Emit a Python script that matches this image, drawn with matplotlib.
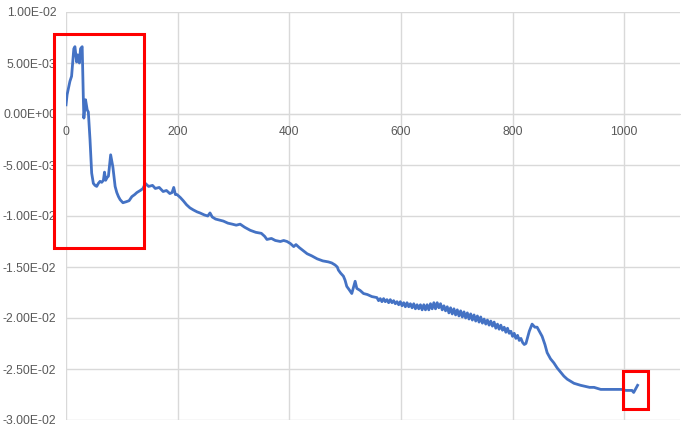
import matplotlib
matplotlib.use("Agg")
import matplotlib.pyplot as plt
from matplotlib.patches import Rectangle
from matplotlib.ticker import FuncFormatter

# Data, in consecutive segments
x_seg1 = [0, 2, 4, 7, 10, 14, 16, 19, 21, 24,
          26, 29, 30, 31, 32, 35, 38, 40, 43, 46,
          49, 52, 55, 58, 61, 64, 67, 69, 71, 74,
          76, 80, 82, 84, 88, 91, 94, 97]
y_seg1 = [0.0009, 0.0019, 0.0024, 0.0032, 0.0037, 0.0064, 0.0066, 0.0051, 0.0058, 0.0050,
          0.0064, 0.0066, 0.0040, 0.0017, -0.0004, 0.0014, 0.0004, 0.0002, -0.0025, -0.0058,
          -0.0068, -0.0070, -0.0071, -0.0068, -0.0066, -0.0067, -0.0065, -0.0057, -0.0065, -0.0062,
          -0.0061, -0.0040, -0.0046, -0.0052, -0.0071, -0.0077, -0.0081, -0.0084]

x_seg2 = [102, 108, 113, 118, 123, 127, 133, 138, 142, 148,
          155, 160, 167, 174, 180, 186, 190, 193, 196, 199,
          205, 210, 216, 222, 228, 235, 240, 248, 254, 258,
          262, 268, 275, 282, 290, 298, 305, 312, 320, 330,
          340, 350, 356, 360, 368, 375, 384, 390, 396, 402,
          408, 412, 418, 425, 432, 440, 450, 460, 470, 476]
y_seg2 = [-0.0087, -0.0086, -0.0085, -0.0081, -0.0079, -0.0077, -0.0075, -0.0073, -0.0068, -0.0071,
          -0.0070, -0.0073, -0.0072, -0.0076, -0.0075, -0.0078, -0.0077, -0.0072, -0.0079, -0.0079,
          -0.0082, -0.0085, -0.0089, -0.0092, -0.0094, -0.0096, -0.0097, -0.0099, -0.0100, -0.0097,
          -0.0101, -0.0103, -0.0104, -0.0105, -0.0107, -0.0108, -0.0109, -0.0108, -0.0111, -0.0114,
          -0.0116, -0.0117, -0.0120, -0.0123, -0.0122, -0.0124, -0.0125, -0.0124, -0.0125, -0.0127,
          -0.0130, -0.0128, -0.0131, -0.0134, -0.0137, -0.0139, -0.0142, -0.0144, -0.0145, -0.0146]

x_seg3 = [482, 486, 488, 492, 497, 500, 503, 507, 512, 515,
          518, 521, 527, 533, 540, 548]
y_seg3 = [-0.0148, -0.0150, -0.0153, -0.0156, -0.0159, -0.0163, -0.0169, -0.0172, -0.0176, -0.0170,
          -0.0164, -0.0171, -0.0173, -0.0176, -0.0177, -0.0179]

# noisy stretch (upper/lower edges of the jittery trace)
x_seg4 = [557, 560, 563, 566, 569, 572, 575, 578, 581, 584,
          587, 590, 593, 596, 599, 602, 605, 608, 611, 614,
          617, 620, 623, 626, 629, 632, 635, 638, 641, 644,
          647, 650, 653, 656, 659, 662, 665, 668, 671, 674,
          677, 680, 683, 686, 689, 692, 695, 698, 701, 704,
          707, 710, 713, 716, 719, 722, 725, 728, 731, 734,
          737, 740, 743, 746, 749, 752, 755, 758, 761, 764,
          767, 770, 773, 776, 779, 782, 785, 788, 791, 794,
          797, 800, 803, 806, 809, 812, 815, 818, 821]
y_seg4 = [-0.0180, -0.0183, -0.0181, -0.0184, -0.0181, -0.0184, -0.0182, -0.0185, -0.0182, -0.0185,
          -0.0183, -0.0186, -0.0184, -0.0187, -0.0184, -0.0188, -0.0185, -0.0189, -0.0185, -0.0189,
          -0.0186, -0.0190, -0.0186, -0.0191, -0.0187, -0.0191, -0.0187, -0.0192, -0.0187, -0.0192,
          -0.0187, -0.0192, -0.0186, -0.0191, -0.0185, -0.0191, -0.0185, -0.0190, -0.0186, -0.0192,
          -0.0188, -0.0193, -0.0189, -0.0195, -0.0190, -0.0196, -0.0191, -0.0197, -0.0192, -0.0198,
          -0.0193, -0.0199, -0.0194, -0.0200, -0.0195, -0.0201, -0.0196, -0.0202, -0.0197, -0.0203,
          -0.0198, -0.0204, -0.0199, -0.0205, -0.0201, -0.0206, -0.0202, -0.0207, -0.0203, -0.0208,
          -0.0204, -0.0210, -0.0206, -0.0211, -0.0207, -0.0212, -0.0209, -0.0214, -0.0210, -0.0215,
          -0.0213, -0.0218, -0.0215, -0.0220, -0.0217, -0.0222, -0.0220, -0.0224, -0.0226]

x_seg5 = [824, 826, 830, 835, 840, 844, 848, 853, 858, 862,
          868, 874, 880, 886, 892, 898, 904, 910, 916, 922,
          930, 938, 946, 952, 958, 966, 974, 982, 988, 995,
          1003, 1010, 1014, 1017, 1020, 1024]
y_seg5 = [-0.0225, -0.0221, -0.0213, -0.0206, -0.0209, -0.0209, -0.0213, -0.0218, -0.0226, -0.0234,
          -0.0240, -0.0244, -0.0249, -0.0253, -0.0257, -0.0260, -0.0262, -0.0264, -0.0265, -0.0266,
          -0.0267, -0.0268, -0.0268, -0.0269, -0.0270, -0.0270, -0.0270, -0.0270, -0.0270, -0.0270,
          -0.0271, -0.0271, -0.0271, -0.0273, -0.0270, -0.0266]

x_ticks = [0, 200, 400, 600, 800, 1000]
y_ticks = [-0.03, -0.025, -0.02, -0.015, -0.01, -0.005, 0.0, 0.005, 0.01]

# Highlight boxes (data coordinates: x0, y0, x1, y1)
box_left = [-21, -0.0131, 140, 0.0078]
box_right = [997, -0.0289, 1042, -0.0252]

x_vals = x_seg1 + x_seg2 + x_seg3 + x_seg4 + x_seg5
y_vals = y_seg1 + y_seg2 + y_seg3 + y_seg4 + y_seg5

plt.rcParams['font.family'] = ['Liberation Sans', 'DejaVu Sans']

fig = plt.figure(figsize=(6.81, 4.32), dpi=100)
ax = fig.add_axes([66/681, 12/432, (680-66)/681, (420-12)/432])

ax.plot(x_vals, y_vals, color='#4472C4', linewidth=2.0, zorder=3)

ax.set_xlim(0, 1100)
ax.set_ylim(-0.03, 0.01)
ax.set_xticks(x_ticks)
ax.set_yticks(y_ticks)

def sci(v, pos):
    s = f"{v:.2E}"
    if s.startswith("-0.00"):
        s = s[1:]
    return s

ax.yaxis.set_major_formatter(FuncFormatter(sci))
ax.grid(True, color='#d9d9d9', linewidth=1.0, zorder=0)
for s in ['top', 'right', 'left']:
    ax.spines[s].set_visible(False)
ax.spines['bottom'].set_position(('data', 0))
ax.spines['bottom'].set_color('#d9d9d9')
ax.tick_params(axis='both', length=0, colors='#595959', labelsize=8.7)
ax.tick_params(axis='y', pad=7)
ax.tick_params(axis='x', pad=8.5)

for b in (box_left, box_right):
    r = Rectangle((b[0], b[1]), b[2] - b[0], b[3] - b[1], fill=False,
                  edgecolor='#ff0000', linewidth=2.2, clip_on=False, zorder=5)
    ax.add_patch(r)

fig.savefig("out.png", dpi=100)
